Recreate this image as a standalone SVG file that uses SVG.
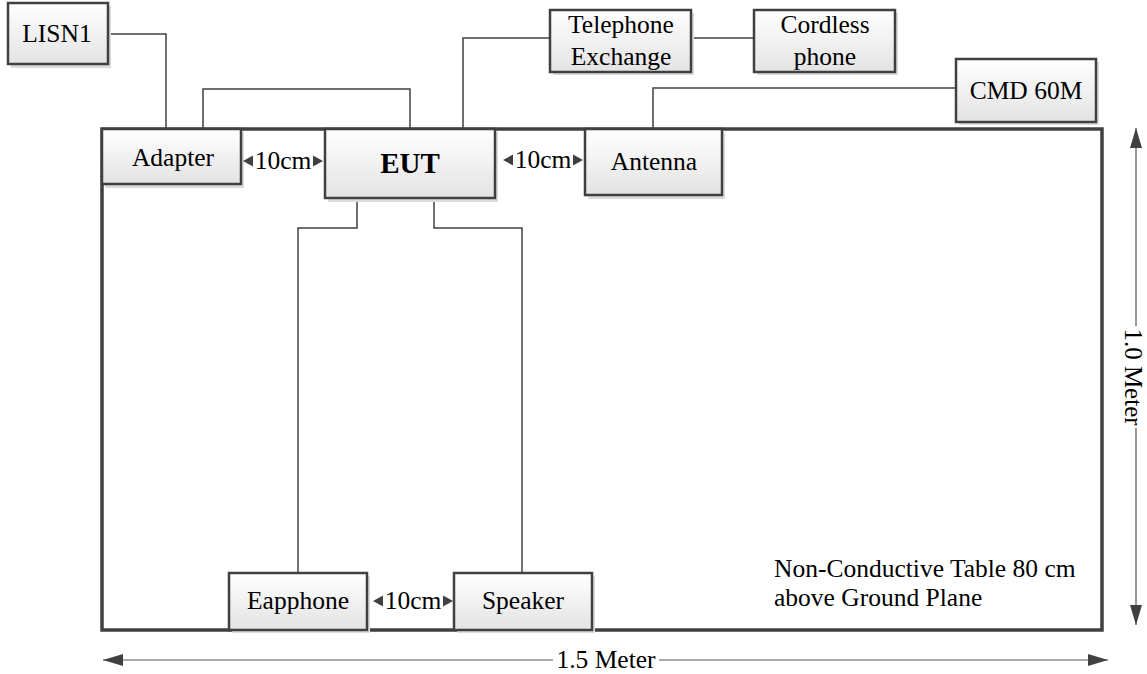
<svg xmlns="http://www.w3.org/2000/svg" width="1147" height="674" viewBox="0 0 1147 674" font-family="'Liberation Serif', 'Times New Roman', serif">
<defs>
<linearGradient id="g" x1="0" y1="0" x2="0" y2="1">
<stop offset="0" stop-color="#ffffff"/>
<stop offset="1" stop-color="#e3e3e3"/>
</linearGradient>
<marker id="ah" viewBox="0 0 20 12" refX="20" refY="6" markerWidth="20" markerHeight="12" markerUnits="userSpaceOnUse" orient="auto-start-reverse">
<path d="M0,0 L20,6 L0,12 Z" fill="#404040"/>
</marker>
<style>
.box{fill:url(#g);stroke:#404040;stroke-width:2.5}
.sh{fill:#dcdcdc}
.t{font-family:'Liberation Serif','Times New Roman',serif;font-size:25.5px;fill:#000;text-anchor:middle;dominant-baseline:central}
.w{stroke:#404040;stroke-width:1.5;fill:none}
.tri{fill:#404040}
.dim{stroke:#555555;stroke-width:1.2;fill:none}
</style>
</defs>
<rect x="0" y="0" width="1147" height="674" fill="#fff"/>

<g id="table">
<rect x="102" y="129" width="1000" height="501" fill="none" stroke="#404040" stroke-width="3.5"/>
</g>

<g id="connectors">
<polyline class="w" points="108,34 166,34 166,129"/>
<polyline class="w" points="203,129 203,89 410,89 410,129"/>
<polyline class="w" points="550,38 463,38 463,129"/>
<polyline class="w" points="691,38 754,38"/>
<polyline class="w" points="653,129 653,88 956,88"/>
<polyline class="w" points="357,198 357,228 298,228 298,572"/>
<polyline class="w" points="434,198 434,228 522,228 522,572"/>
</g>

<g id="LISN1">
<rect class="sh" x="11" y="6" width="100" height="62"/>
<rect class="box" x="8" y="3" width="100" height="61"/>
<text class="t" x="57" y="33">LISN1</text>
</g>
<g id="Adapter">
<rect class="sh" x="105" y="132" width="139" height="56"/>
<rect class="box" x="102" y="129" width="139" height="55"/>
<text class="t" x="173" y="157">Adapter</text>
</g>
<g id="EUT">
<rect class="sh" x="328" y="132" width="170" height="70"/>
<rect class="box" x="325" y="129" width="170" height="69"/>
<text class="t" x="410" y="163" style="font-weight:bold;font-size:29px">EUT</text>
</g>
<g id="TelephoneExchange">
<rect class="sh" x="553" y="13" width="141" height="62"/>
<rect class="box" x="550" y="10" width="141" height="62"/>
<text class="t" x="621" y="24">Telephone</text>
<text class="t" x="621" y="56">Exchange</text>
</g>
<g id="CordlessPhone">
<rect class="sh" x="757" y="13" width="141" height="62"/>
<rect class="box" x="754" y="10" width="141" height="62"/>
<text class="t" x="825" y="24">Cordless</text>
<text class="t" x="825" y="56">phone</text>
</g>
<g id="Antenna">
<rect class="sh" x="588" y="132" width="137" height="67"/>
<rect class="box" x="585" y="129" width="137" height="66"/>
<text class="t" x="654" y="161">Antenna</text>
</g>
<g id="CMD60M">
<rect class="sh" x="959" y="62" width="140" height="63"/>
<rect class="box" x="956" y="59" width="140" height="63"/>
<text class="t" x="1026" y="90">CMD 60M</text>
</g>
<g id="Eapphone">
<rect class="sh" x="232" y="576" width="138" height="57"/>
<rect class="box" x="229" y="573" width="138" height="57"/>
<text class="t" x="298" y="600">Eapphone</text>
</g>
<g id="Speaker">
<rect class="sh" x="457" y="576" width="138" height="57"/>
<rect class="box" x="454" y="573" width="138" height="57"/>
<text class="t" x="523" y="600">Speaker</text>
</g>

<g id="spacing1">
<polygon class="tri" points="243,161 253,155.5 253,166.5"/>
<text class="t" x="283" y="160">10cm</text>
<polygon class="tri" points="323,161 313,155.5 313,166.5"/>
</g>
<g id="spacing2">
<polygon class="tri" points="503,160 513,154.5 513,165.5"/>
<text class="t" x="543" y="159">10cm</text>
<polygon class="tri" points="583,160 573,154.5 573,165.5"/>
</g>
<g id="spacing3">
<polygon class="tri" points="373,601 383,595.5 383,606.5"/>
<text class="t" x="413" y="600">10cm</text>
<polygon class="tri" points="453,601 443,595.5 443,606.5"/>
</g>

<g id="note">
<text class="t" style="text-anchor:start"><tspan x="774" y="568">Non-Conductive Table 80 cm</tspan><tspan x="774" y="596.5">above Ground Plane</tspan></text>
</g>

<g id="dimH">
<line class="dim" x1="103" y1="660" x2="553" y2="660" marker-start="url(#ah)"/>
<line class="dim" x1="659" y1="660" x2="1108" y2="660" marker-end="url(#ah)"/>
<text class="t" x="606" y="659">1.5 Meter</text>
</g>
<g id="dimV">
<line class="dim" x1="1136" y1="128" x2="1136" y2="326" marker-start="url(#ah)"/>
<line class="dim" x1="1136" y1="428" x2="1136" y2="625" marker-end="url(#ah)"/>
<text class="t" x="1133" y="377" style="font-size:25px" transform="rotate(90 1133 377)">1.0 Meter</text>
</g>
</svg>
